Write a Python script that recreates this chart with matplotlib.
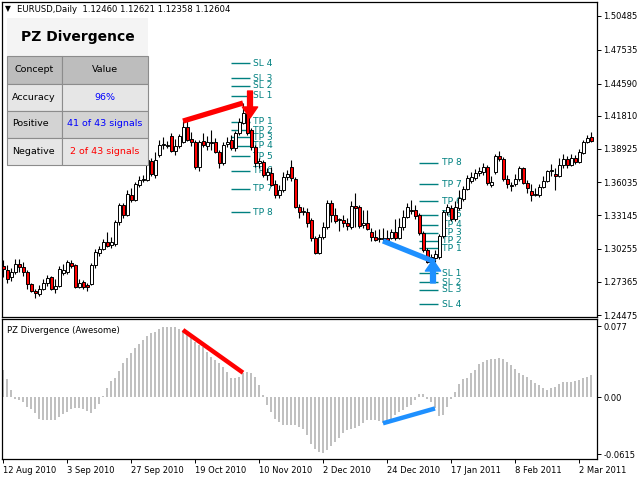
import matplotlib
matplotlib.use("Agg")
import matplotlib.pyplot as plt
from matplotlib.patches import Rectangle

plt.rcParams['font.family'] = 'DejaVu Sans'

# EURUSD daily candles, one per weekday from 12 Aug 2010
opens = [
    1.2876, 1.2841, 1.2780, 1.2824, 1.2893, 1.2867, 1.2824, 1.2719, 1.2658, 1.2632,
    1.2676, 1.2728, 1.2780, 1.2676, 1.2702, 1.2815, 1.2824, 1.2902, 1.2885, 1.2693,
    1.2737, 1.2711, 1.2719, 1.2885, 1.2989, 1.3024, 1.3084, 1.3058, 1.3066, 1.3258,
    1.3405, 1.3319, 1.3493, 1.3449, 1.3580, 1.3623, 1.3623, 1.3788, 1.3667, 1.3840,
    1.3927, 1.3918, 1.4005, 1.3875, 1.3918, 1.3953, 1.4083, 1.3979, 1.3953, 1.3736,
    1.3962, 1.3918, 1.3944, 1.3953, 1.3866, 1.3771, 1.3936, 1.3970, 1.3901, 1.4031,
    1.4118, 1.4205, 1.4057, 1.3910, 1.3771, 1.3780, 1.3667, 1.3684, 1.3588, 1.3493,
    1.3536, 1.3649, 1.3736, 1.3632, 1.3388, 1.3345, 1.3345, 1.3275, 1.3119, 1.2989,
    1.3127, 1.3214, 1.3423, 1.3319, 1.3275, 1.3275, 1.3249, 1.3214, 1.3397, 1.3388,
    1.3232, 1.3249, 1.3171, 1.3127, 1.3110, 1.3119, 1.3119, 1.3119, 1.3171, 1.3119,
    1.3214, 1.3301, 1.3353, 1.3362, 1.3319, 1.3162, 1.3015, 1.2954, 1.2945, 1.2954,
    1.3136, 1.3345, 1.3380, 1.3284, 1.3380, 1.3458, 1.3545, 1.3614, 1.3641, 1.3684,
    1.3693, 1.3736, 1.3580, 1.3693, 1.3832, 1.3806, 1.3632, 1.3571, 1.3588, 1.3632,
    1.3727, 1.3597, 1.3527, 1.3493, 1.3493, 1.3562, 1.3614, 1.3701, 1.3675, 1.3658,
    1.3753, 1.3806, 1.3753, 1.3814, 1.3780, 1.3858, 1.3953, 1.3996]
highs = [
    1.2928, 1.2885, 1.2858, 1.2937, 1.2937, 1.2911, 1.2841, 1.2728, 1.2676, 1.2711,
    1.2763, 1.2797, 1.2789, 1.2763, 1.2876, 1.2893, 1.2928, 1.2928, 1.2893, 1.2763,
    1.2754, 1.2728, 1.2902, 1.3024, 1.3049, 1.3110, 1.3171, 1.3127, 1.3275, 1.3423,
    1.3423, 1.3536, 1.3553, 1.3606, 1.3658, 1.3667, 1.3814, 1.3814, 1.3866, 1.3970,
    1.3996, 1.3962, 1.4031, 1.3979, 1.4023, 1.4135, 1.4144, 1.4040, 1.3970, 1.3970,
    1.4031, 1.4005, 1.4057, 1.3988, 1.3884, 1.3953, 1.3996, 1.4014, 1.4049, 1.4162,
    1.4292, 1.4231, 1.4075, 1.3927, 1.3814, 1.3797, 1.3727, 1.3736, 1.3623, 1.3580,
    1.3693, 1.3710, 1.3797, 1.3649, 1.3414, 1.3388, 1.3380, 1.3292, 1.3136, 1.3153,
    1.3258, 1.3449, 1.3449, 1.3380, 1.3292, 1.3319, 1.3292, 1.3440, 1.3510, 1.3405,
    1.3362, 1.3362, 1.3205, 1.3188, 1.3197, 1.3205, 1.3188, 1.3197, 1.3284, 1.3292,
    1.3362, 1.3423, 1.3449, 1.3405, 1.3336, 1.3179, 1.3032, 1.2980, 1.3015, 1.3153,
    1.3362, 1.3414, 1.3405, 1.3440, 1.3536, 1.3571, 1.3667, 1.3693, 1.3719, 1.3736,
    1.3771, 1.3753, 1.3658, 1.3849, 1.3875, 1.3823, 1.3667, 1.3606, 1.3675, 1.3745,
    1.3736, 1.3623, 1.3588, 1.3553, 1.3588, 1.3658, 1.3710, 1.3762, 1.3727, 1.3814,
    1.3849, 1.3832, 1.3849, 1.3840, 1.3892, 1.3970, 1.4014, 1.4040]
lows = [
    1.2780, 1.2728, 1.2745, 1.2806, 1.2824, 1.2789, 1.2676, 1.2650, 1.2597, 1.2615,
    1.2667, 1.2702, 1.2667, 1.2641, 1.2693, 1.2797, 1.2806, 1.2858, 1.2684, 1.2684,
    1.2676, 1.2658, 1.2711, 1.2858, 1.2963, 1.3015, 1.3040, 1.3032, 1.3049, 1.3232,
    1.3292, 1.3310, 1.3432, 1.3440, 1.3562, 1.3606, 1.3614, 1.3658, 1.3641, 1.3823,
    1.3892, 1.3901, 1.3866, 1.3840, 1.3901, 1.3944, 1.3962, 1.3918, 1.3719, 1.3701,
    1.3910, 1.3884, 1.3884, 1.3858, 1.3727, 1.3753, 1.3910, 1.3884, 1.3875, 1.4014,
    1.4109, 1.4014, 1.3884, 1.3736, 1.3727, 1.3649, 1.3623, 1.3571, 1.3467, 1.3467,
    1.3519, 1.3623, 1.3614, 1.3380, 1.3292, 1.3319, 1.3214, 1.3093, 1.2980, 1.2980,
    1.3110, 1.3197, 1.3258, 1.3249, 1.3180, 1.3214, 1.3188, 1.3197, 1.3214, 1.3205,
    1.3205, 1.3188, 1.3093, 1.3093, 1.3084, 1.3093, 1.3075, 1.3110, 1.3101, 1.3110,
    1.3188, 1.3292, 1.3327, 1.3284, 1.3145, 1.2998, 1.2902, 1.2876, 1.2911, 1.2937,
    1.3119, 1.3319, 1.3266, 1.3266, 1.3362, 1.3440, 1.3536, 1.3597, 1.3623, 1.3658,
    1.3667, 1.3580, 1.3562, 1.3675, 1.3788, 1.3614, 1.3553, 1.3527, 1.3571, 1.3614,
    1.3588, 1.3510, 1.3440, 1.3484, 1.3475, 1.3553, 1.3606, 1.3658, 1.3536, 1.3649,
    1.3727, 1.3727, 1.3745, 1.3762, 1.3771, 1.3849, 1.3944, 1.3953]
closes = [
    1.2850, 1.2763, 1.2824, 1.2893, 1.2867, 1.2824, 1.2719, 1.2658, 1.2641, 1.2676,
    1.2728, 1.2771, 1.2676, 1.2702, 1.2850, 1.2841, 1.2911, 1.2876, 1.2693, 1.2728,
    1.2693, 1.2693, 1.2885, 1.2998, 1.3024, 1.3084, 1.3049, 1.3084, 1.3258, 1.3405,
    1.3319, 1.3501, 1.3449, 1.3588, 1.3623, 1.3632, 1.3797, 1.3675, 1.3797, 1.3927,
    1.3936, 1.3927, 1.3875, 1.3918, 1.4005, 1.4083, 1.3970, 1.3953, 1.3736, 1.3953,
    1.3927, 1.3953, 1.3953, 1.3866, 1.3771, 1.3927, 1.3953, 1.3901, 1.4031, 1.4127,
    1.4205, 1.4031, 1.3910, 1.3771, 1.3788, 1.3667, 1.3693, 1.3580, 1.3493, 1.3536,
    1.3649, 1.3675, 1.3641, 1.3388, 1.3345, 1.3353, 1.3249, 1.3119, 1.2989, 1.3127,
    1.3214, 1.3423, 1.3319, 1.3266, 1.3284, 1.3249, 1.3223, 1.3397, 1.3380, 1.3223,
    1.3249, 1.3197, 1.3127, 1.3101, 1.3119, 1.3110, 1.3101, 1.3171, 1.3119, 1.3214,
    1.3301, 1.3388, 1.3362, 1.3310, 1.3162, 1.3015, 1.2911, 1.2911, 1.2980, 1.3136,
    1.3345, 1.3388, 1.3284, 1.3388, 1.3467, 1.3545, 1.3641, 1.3649, 1.3684, 1.3701,
    1.3736, 1.3597, 1.3606, 1.3832, 1.3806, 1.3632, 1.3588, 1.3580, 1.3632, 1.3727,
    1.3597, 1.3553, 1.3493, 1.3501, 1.3562, 1.3614, 1.3701, 1.3710, 1.3658, 1.3753,
    1.3806, 1.3753, 1.3814, 1.3780, 1.3866, 1.3953, 1.3988, 1.3962]

# awesome oscillator histogram
ao = [
    0.0295, 0.0198, 0.0079, -0.0018, -0.0030, -0.0047, -0.0100, -0.0130, -0.0170, -0.0230,
    -0.0245, -0.0250, -0.0250, -0.0240, -0.0216, -0.0180, -0.0155, -0.0130, -0.0110, -0.0120,
    -0.0130, -0.0144, -0.0166, -0.0130, -0.0072, 0.0014, 0.0104, 0.0176, 0.0205, 0.0284,
    0.0367, 0.0420, 0.0480, 0.0530, 0.0580, 0.0620, 0.0660, 0.0690, 0.0710, 0.0734,
    0.0756, 0.0763, 0.0763, 0.0756, 0.0734, 0.0727, 0.0690, 0.0660, 0.0600, 0.0565,
    0.0547, 0.0490, 0.0440, 0.0400, 0.0367, 0.0330, 0.0277, 0.0205, 0.0205, 0.0220,
    0.0266, 0.0277, 0.0266, 0.0220, 0.0133, 0.0025, -0.0080, -0.0155, -0.0230, -0.0270,
    -0.0300, -0.0300, -0.0300, -0.0300, -0.0320, -0.0346, -0.0410, -0.0500, -0.0560, -0.0587,
    -0.0600, -0.0570, -0.0526, -0.0480, -0.0443, -0.0390, -0.0350, -0.0346, -0.0335, -0.0306,
    -0.0280, -0.0245, -0.0240, -0.0250, -0.0260, -0.0280, -0.0270, -0.0245, -0.0190, -0.0155,
    -0.0137, -0.0108, -0.0083, -0.0029, 0.0032, 0.0032, -0.0020, -0.0047, -0.0120, -0.0200,
    -0.0190, -0.0100, -0.0020, 0.0060, 0.0144, 0.0194, 0.0205, 0.0266, 0.0300, 0.0360,
    0.0385, 0.0400, 0.0410, 0.0410, 0.0420, 0.0410, 0.0385, 0.0350, 0.0310, 0.0266,
    0.0240, 0.0220, 0.0187, 0.0158, 0.0133, 0.0097, 0.0079, 0.0097, 0.0115, 0.0144,
    0.0170, 0.0170, 0.0170, 0.0180, 0.0187, 0.0205, 0.0216, 0.0240]

price_ticks = [1.50485, 1.47535, 1.44590, 1.41810, 1.38925, 1.36035, 1.33145, 1.30255, 1.27365, 1.24475]
ao_ticks = [0.077, 0.0, -0.0615]
ao_tick_labels = ["0.077", "0.00", "-0.0615"]
date_labels = ["12 Aug 2010", "3 Sep 2010", "27 Sep 2010", "19 Oct 2010", "10 Nov 2010",
               "2 Dec 2010", "24 Dec 2010", "17 Jan 2011", "8 Feb 2011", "2 Mar 2011"]

# divergences (bar numbers) and signal arrows
bear_div = [45, 60]
bull_div = [95, 108]
signal_bars = [61.75, 107.5]
signal_tips = [1.4161, 1.2928]
signal_tails = [1.4396, 1.2728]

sell_names = ["SL 4", "SL 3", "SL 2", "SL 1", "TP 1", "TP 2", "TP 3", "TP 4", "TP 5", "TP 6", "TP 7", "TP 8"]
sell_levels = [1.4637, 1.4507, 1.4440, 1.4353, 1.4129, 1.4057, 1.3994, 1.3921, 1.3831, 1.3704, 1.3545, 1.3342]
buy_names = ["TP 8", "TP 7", "TP 6", "TP 5", "TP 4", "TP 3", "TP 2", "TP 1", "SL 1", "SL 2", "SL 3", "SL 4"]
buy_levels = [1.3773, 1.3585, 1.3440, 1.3319, 1.3232, 1.3165, 1.3095, 1.3029, 1.2812, 1.2734, 1.2667, 1.2543]

table_rows = [["Concept", "Value"], ["Accuracy", "96%"], ["Positive", "41 of 43 signals"], ["Negative", "2 of 43 signals"]]
row_colors = ["#bdbdbd", "#e6e6e6", "#d3d3d3", "#e6e6e6"]
value_colors = ["black", "#0000ff", "#0000ff", "#ff0000"]

RED = "#ff0000"
BLUE = "#1e90ff"
TEAL = "#008080"

fig = plt.figure(figsize=(6.4, 4.8), dpi=100)
fig.patch.set_facecolor("white")

def px_axes(x0, y0, x1, y1):
    return fig.add_axes([x0 / 640, 1 - y1 / 480, (x1 - x0) / 640, (y1 - y0) / 480])

ax = px_axes(2, 2, 597, 317)
sub = px_axes(2, 319, 597, 459)

n = len(closes)
xs = list(range(n))

# candles
ax.vlines(xs, lows, highs, color="black", lw=0.8, zorder=3)
for i in xs:
    o, c = opens[i], closes[i]
    fill = "white" if c >= o else RED
    ax.bar(i, abs(c - o), bottom=min(o, c), width=0.75, color=fill,
           edgecolor="black", linewidth=0.7, zorder=4)

# SL / TP levels
for name, lvl in zip(sell_names, sell_levels):
    ax.hlines(lvl, 57, 61.75, color=TEAL, lw=1, zorder=2)
    ax.text(62.5, lvl, name, color=TEAL, fontsize=6.6, va="center", ha="left", zorder=2)
for name, lvl in zip(buy_names, buy_levels):
    ax.hlines(lvl, 104, 108.75, color=TEAL, lw=1, zorder=2)
    ax.text(109.75, lvl, name, color=TEAL, fontsize=6.6, va="center", ha="left", zorder=2)

# divergence lines on price
ax.plot(bear_div, [highs[b] for b in bear_div], color=RED, lw=3.8, zorder=6, solid_capstyle="butt")
ax.plot(bull_div, [lows[b] for b in bull_div], color=BLUE, lw=3.8, zorder=6, solid_capstyle="butt")

# arrows
for bx, tip, tail, col in zip(signal_bars, signal_tips, signal_tails, [RED, BLUE]):
    ax.annotate("", xy=(bx, tip), xytext=(bx, tail),
                arrowprops=dict(facecolor=col, edgecolor=col, width=3.5, headwidth=11, headlength=8),
                zorder=7)

ax.set_xlim(-0.25, 148.5)
ax.set_ylim(1.2432, 1.5170)
ax.yaxis.tick_right()
ax.set_yticks(price_ticks)
ax.set_yticklabels([f"{p:.5f}" for p in price_ticks])
ax.tick_params(axis="y", direction="out", length=3, width=0.7, pad=1.5, labelsize=6.0)
ax.set_xticks([])
for s in ax.spines.values():
    s.set_linewidth(0.9)

# oscillator
sub.bar(xs, ao, width=0.6, color="#c0c0c0", zorder=2)
sub.plot(bear_div, [ao[b] for b in bear_div], color=RED, lw=3.2, zorder=4, solid_capstyle="butt")
sub.plot(bull_div, [ao[b] for b in bull_div], color=BLUE, lw=3.2, zorder=4, solid_capstyle="butt")
sub.set_xlim(-0.25, 148.5)
sub.set_ylim(-0.0666, 0.0846)
sub.yaxis.tick_right()
sub.set_yticks(ao_ticks)
sub.set_yticklabels(ao_tick_labels)
sub.set_xticks(list(range(0, 145, 16)))
sub.set_xticklabels(date_labels, ha="left")
sub.tick_params(axis="y", direction="out", length=3, width=0.7, pad=1.5, labelsize=6.0)
sub.tick_params(axis="x", direction="out", length=3, width=0.7, pad=2, labelsize=6.0)
for s in sub.spines.values():
    s.set_linewidth(0.9)
sub.text(0.008, 0.95, "PZ Divergence (Awesome)", transform=sub.transAxes,
         fontsize=6.1, va="top", ha="left")

# overlay for header text and info table (pixel coords)
ov = fig.add_axes([0, 0, 1, 1], zorder=10)
ov.set_xlim(0, 640)
ov.set_ylim(480, 0)
ov.axis("off")

ov.text(5, 9, "\u25bc", fontsize=5.5, va="center", ha="left")
ov.text(17, 9, "EURUSD,Daily  1.12460 1.12621 1.12358 1.12604", fontsize=6.1, va="center", ha="left")

ov.add_patch(Rectangle((7, 18), 141, 37.5, facecolor="#f4f4f4", edgecolor="none"))
ov.text(77.5, 37, "PZ Divergence", fontsize=10, fontweight="bold", ha="center", va="center")

row_edges = [56, 83.5, 110.5, 137.5, 164.5]
col_edges = [7, 62, 148]
for r, (row, bg) in enumerate(zip(table_rows, row_colors)):
    y0, y1 = row_edges[r], row_edges[r + 1]
    for c in range(2):
        ov.add_patch(Rectangle((col_edges[c], y0), col_edges[c + 1] - col_edges[c], y1 - y0,
                               facecolor=bg, edgecolor="#8c8c8c", lw=0.8))
    ym = (y0 + y1) / 2
    if r == 0:
        ov.text((col_edges[0] + col_edges[1]) / 2, ym, row[0], fontsize=6.8, ha="center", va="center")
    else:
        ov.text(col_edges[0] + 5, ym, row[0], fontsize=6.8, ha="left", va="center")
    ov.text((col_edges[1] + col_edges[2]) / 2, ym, row[1], fontsize=6.8, ha="center", va="center",
            color=value_colors[r])

fig.savefig("out.png", dpi=100)
